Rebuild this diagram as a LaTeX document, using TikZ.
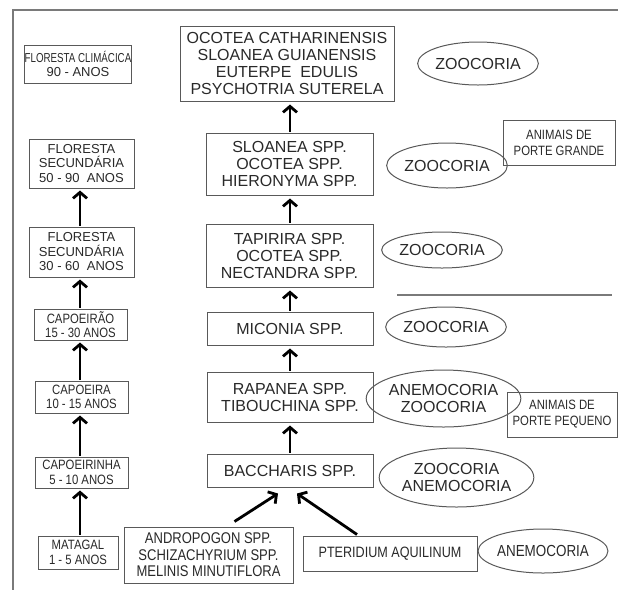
\documentclass[tikz,border=0pt]{standalone}
\usepackage{graphicx}
\usepackage{fontspec}
\setmainfont{Liberation Sans}
\newfontfamily\condfont[FakeStretch=0.84]{Liberation Sans}
\usetikzlibrary{shapes.geometric,arrows.meta}
\definecolor{txt}{gray}{0.16}
\definecolor{edge}{gray}{0.35}
\begin{document}
\begin{tikzpicture}[x=1pt,y=-1pt,
  box/.style={draw=edge,line width=1pt,rectangle,inner sep=0pt,align=center,text=txt},
  oval/.style={draw=edge,line width=1pt,ellipse,inner sep=0pt,align=center,text=txt},
  midf/.style={font={\fontsize{16}{17}\selectfont}},
  leftf/.style={font={\fontsize{13}{14.5}\selectfont}},
  leftc/.style={font={\condfont\fontsize{13.5}{14.5}\selectfont}},
  ovf/.style={font={\fontsize{16}{17}\selectfont}},
  arr/.style={line width=2.8pt,black,-{Straight Barb[length=6pt,width=14pt]}},
  frame/.style={draw=edge!80,line width=1.3pt}]
\useasboundingbox (0,0) rectangle (618,590);
% frame lines
\coordinate (ftl) at (13,10);
\coordinate (ftr) at (618,10);
\coordinate (fbl) at (13,590);
\draw[frame] (ftr) -- (ftl) -- (fbl);
\coordinate (ml) at (397,295);
\coordinate (mr) at (612,295);
\draw[frame] (ml) -- (mr);
% left column
\node[box,leftf,minimum width=106pt,minimum height=38pt] (fc) at (78,64) {\scalebox{0.75}[1]{FLORESTA CLIMÁCICA}\\90 - ANOS};
\node[box,leftf,minimum width=105pt,minimum height=49pt] (fs2) at (81.5,163.5) {FLORESTA\\SECUNDÁRIA\\50 - 90\ \ ANOS};
\node[box,leftf,minimum width=105pt,minimum height=50pt] (fs1) at (81.5,252) {FLORESTA\\SECUNDÁRIA\\30 - 60\ \ ANOS};
\node[box,leftc,minimum width=93pt,minimum height=31pt] (cpo) at (80.5,324.5) {CAPOEIRÃO\\15 - 30 ANOS};
\node[box,leftc,minimum width=93pt,minimum height=32pt] (cap) at (81.5,397) {CAPOEIRA\\10 - 15 ANOS};
\node[box,leftc,minimum width=93pt,minimum height=31pt] (cph) at (81.5,472.5) {CAPOEIRINHA\\5 - 10 ANOS};
\node[box,leftc,minimum width=80pt,minimum height=33pt] (mat) at (78,552.5) {MATAGAL\\1 - 5 ANOS};
\draw[arr,shorten <=1pt,shorten >=2pt] (mat.north -| 80,0) -- (cph.south -| 80,0);
\draw[arr,shorten <=1pt,shorten >=2pt] (cph.north -| 80,0) -- (cap.south -| 80,0);
\draw[arr,shorten <=1pt,shorten >=2pt] (cap.north -| 80,0) -- (cpo.south -| 80,0);
\draw[arr,shorten <=1pt,shorten >=2pt] (cpo.north -| 80,0) -- (fs1.south -| 80,0);
\draw[arr,shorten <=1pt,shorten >=2pt] (fs1.north -| 80,0) -- (fs2.south -| 80,0);
% middle column
\node[box,midf,minimum width=214pt,minimum height=75pt] (top) at (287,63.5) {OCOTEA CATHARINENSIS\\SLOANEA GUIANENSIS\\EUTERPE\ \ EDULIS\\PSYCHOTRIA SUTERELA};
\node[box,midf,minimum width=167pt,minimum height=62pt] (sl) at (289.5,164) {SLOANEA SPP.\\OCOTEA SPP.\\HIERONYMA SPP.};
\node[box,midf,minimum width=167pt,minimum height=63pt] (tap) at (289.5,255.5) {TAPIRIRA SPP.\\OCOTEA SPP.\\NECTANDRA SPP.};
\node[box,midf,minimum width=166pt,minimum height=33pt] (mic) at (290,328.5) {MICONIA SPP.};
\node[box,midf,minimum width=166pt,minimum height=50pt] (rap) at (290,397) {RAPANEA SPP.\\TIBOUCHINA SPP.};
\node[box,midf,minimum width=166pt,minimum height=33pt] (bac) at (290,470.5) {BACCHARIS SPP.};
\node[box,font={\condfont\fontsize{15.5}{16.5}\selectfont},minimum width=169pt,minimum height=56pt] (and) at (208.5,555) {ANDROPOGON SPP.\\SCHIZACHYRIUM SPP.\\MELINIS MINUTIFLORA};
\node[box,font={\condfont\fontsize{15}{16}\selectfont},minimum width=174pt,minimum height=35pt] (pte) at (390,553.5) {PTERIDIUM AQUILINUM};
\draw[arr,shorten <=1pt,shorten >=3pt] (tap.north -| 290,0) -- (sl.south -| 290,0);
\draw[arr,shorten <=1pt,shorten >=3pt] (sl.north -| 290,0) -- (top.south -| 290,0);
\draw[arr,shorten <=1pt,shorten >=3pt] (mic.north) -- (tap.south -| 290,0);
\draw[arr,shorten <=1pt,shorten >=3pt] (rap.north) -- (mic.south);
\draw[arr,shorten <=1pt,shorten >=3pt] (bac.north) -- (rap.south);
\draw[arr] ([xshift=26pt,yshift=5pt]and.north) -- ([xshift=-12pt,yshift=-6pt]bac.south);
\draw[arr] ([xshift=-33pt,yshift=1pt]pte.north) -- ([xshift=7pt,yshift=-6pt]bac.south);
% right column
\node[oval,ovf,minimum width=106pt,minimum height=43pt] (e1) at (478,63.5) {ZOOCORIA};
\node[oval,ovf,minimum width=100pt,minimum height=45pt] (e2) at (447,165.5) {ZOOCORIA};
\node[oval,ovf,minimum width=90pt,minimum height=36pt] (e3) at (442,250) {ZOOCORIA};
\node[oval,ovf,minimum width=98pt,minimum height=40pt] (e4) at (446,327) {ZOOCORIA};
\node[oval,ovf,minimum width=113pt,minimum height=57pt] (e5) at (443.5,398.5) {ANEMOCORIA\\ZOOCORIA};
\node[oval,ovf,minimum width=117pt,minimum height=59pt] (e6) at (456.5,477.5) {ZOOCORIA\\ANEMOCORIA};
\node[oval,font={\condfont\fontsize{16}{17}\selectfont},minimum width=110pt,minimum height=44pt] (e7) at (543,551) {ANEMOCORIA};
\node[box,font={\condfont\fontsize{13.5}{16}\selectfont},minimum width=112pt,minimum height=45pt] (apg) at (559,142.5) {ANIMAIS DE\\PORTE GRANDE};
\node[box,font={\condfont\fontsize{13.5}{16}\selectfont},minimum width=110pt,minimum height=45pt] (app) at (562,414.5) {ANIMAIS DE\\PORTE PEQUENO};
\end{tikzpicture}
\end{document}
